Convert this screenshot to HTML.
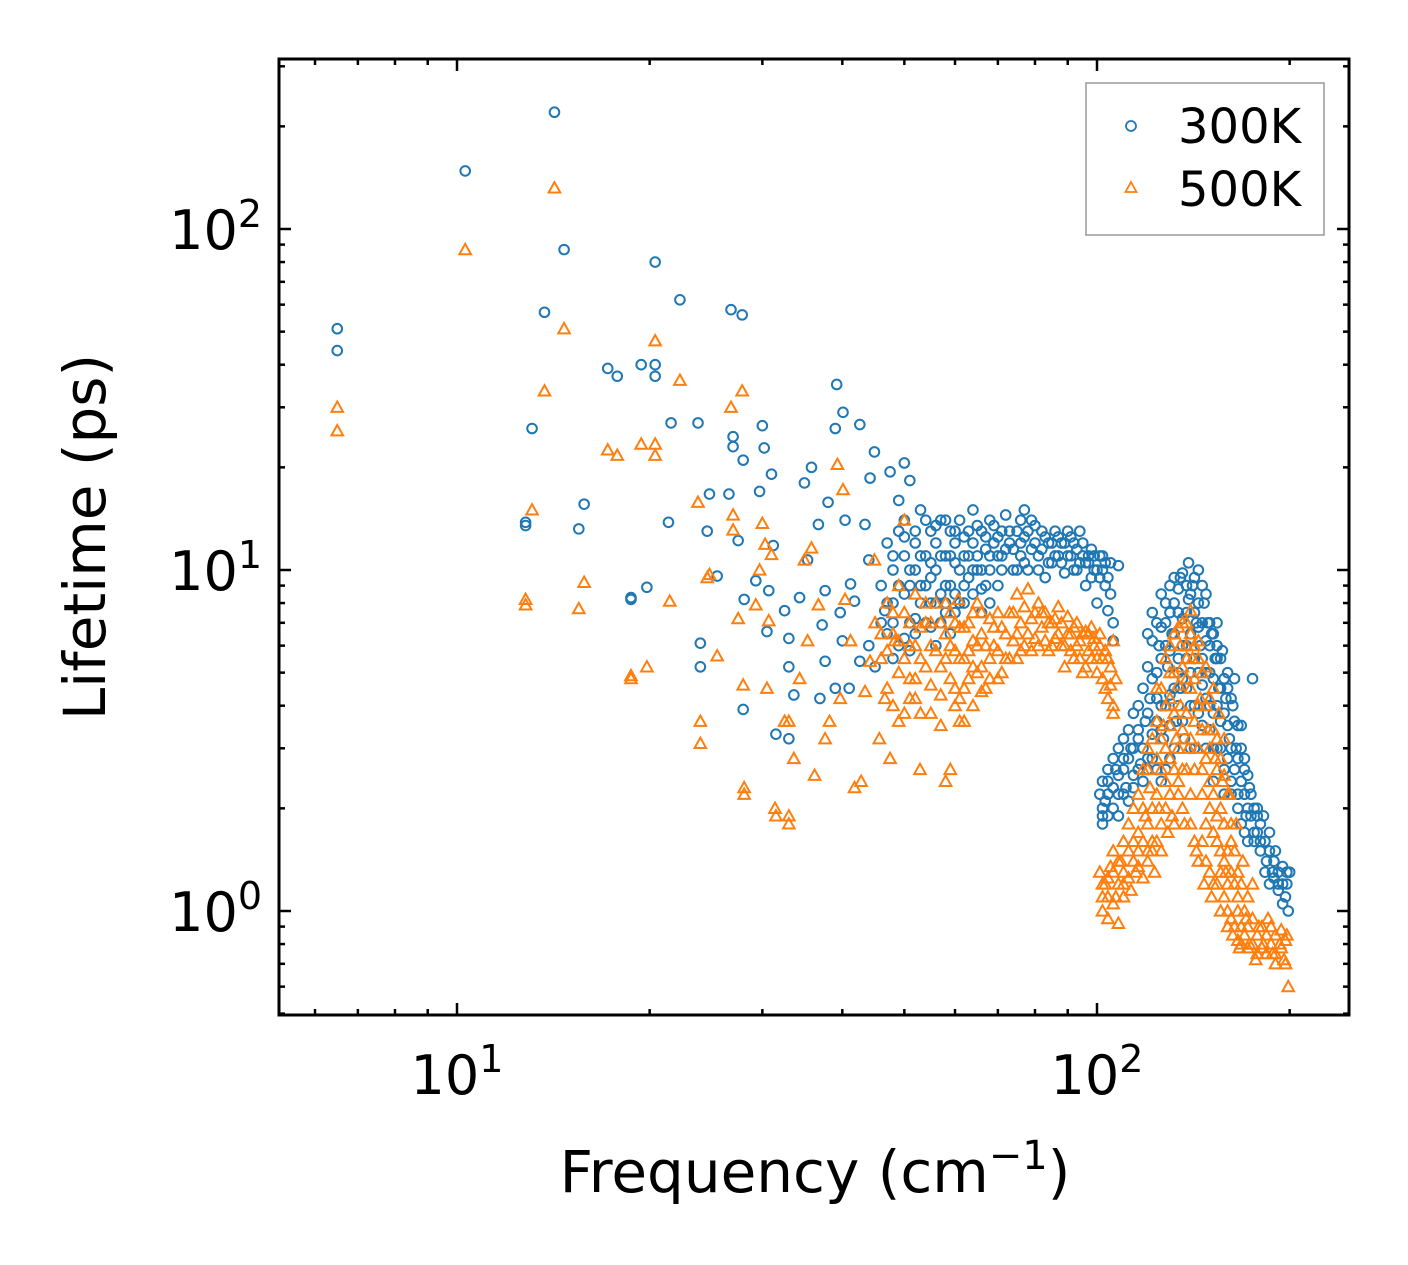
<!DOCTYPE html>
<html><head><meta charset="utf-8">
<style>
html,body{margin:0;padding:0;background:#fff;}
svg{display:block;font-family:"DejaVu Sans","Liberation Sans",sans-serif;}
</style></head>
<body>
<svg id="chart" width="1408" height="1265" viewBox="0 0 1408 1265" xmlns="http://www.w3.org/2000/svg">
<rect x="0" y="0" width="1408" height="1265" fill="#fff"/>
<g id="marks"></g>
<g id="ticks"></g>
<rect x="279" y="59" width="1070" height="956" fill="none" stroke="#000" stroke-width="3"/>
<text x="85" y="537" transform="rotate(-90 85 537)" text-anchor="middle" dominant-baseline="central" font-size="58">Lifetime (ps)</text>
<text x="815" y="1192" text-anchor="middle" font-size="58">Frequency (cm<tspan dy="-23" font-size="40">−1</tspan><tspan dy="23">)</tspan></text>
<g>
<rect x="1086" y="83" width="238" height="152" fill="#fff" stroke="#999" stroke-width="1.5"/>
<circle cx="1131" cy="126" r="5" fill="none" stroke="#1f77b4" stroke-width="1.8"/>
<text x="1178" y="143" font-size="48">300K</text>
<polygon points="1131,182 1136.5,192 1125.5,192" fill="none" stroke="#ff7f0e" stroke-width="1.8"/>
<text x="1178" y="206" font-size="48">500K</text>
</g>
</svg>
<script>
const xTickValues = [10, 100];
const xTickLabels = ["1", "2"];
const yTickValues = [1, 10, 100];
const yTickLabels = ["0", "1", "2"];

const freq300 = [6.5,6.5,10.3,14.2,14.7,13.7,13.1,12.8,12.8,15.5,15.8,17.2,17.8,19.4,20.4,20.4,20.4,22.3,21.6,21.4,19.8,18.7,18.7,23.8,24.8,24.6,24,24,25.5,26.6,26.8,27.9,27,27,28,27.5,28.1,28,29.3,29.7,30,30.2,30.5,30.7,31,31.2,31.5,33,32.5,33,33,33.6,34.3,34.9,35.3,35.8,36.7,37.2,37.6,37.6,38,39.2,39,39.7,40.1,40.4,41.2,41.8,42.6,43.4,44.2,44.9,47.5,49,50,51,46.6,42.6,41,39,36.9,40,44,
47,48,48,49,50,50,51,51,52,52,53,53,54,55,55,56,56,57,57,58,59,59,60,60,61,61,62,63,63,64,64,65,66,66,67,68,68,69,70,71,71,72,73,74,75,76,77,77,78,79,80,81,82,83,84,85,86,87,88,89,90,91,92,93,94,95,96,97,98,99,100,101,102,103,104,105,106,108,
44,45,46,47,48,50,52,55,58,
101,102,103,104,106,107,108,110,111,113,114,116,117,119,120,121,122,124,124,125,126,126,127,128,129,130,130,131,132,133,134,135,135,136,137,138,139,139,140,141,142,143,144,145,146,147,148,149,150,151,152,153,154,155,156,157,158,159,160,161,162,163,165,166,168,170,171,173,175,176,178,180,182,184,186,188,190,192,195,197,199,200];
const life300 = [51,44,148,220,87,57,26,13.8,13.5,13.2,15.6,39,37,40,40,37,80,62,27,13.8,8.9,8.3,8.2,27,16.7,13,6.1,5.2,9.6,16.7,58,56,24.6,23,21,12.2,8.2,3.9,9.3,17,26.5,22.8,6.6,8.7,19.1,11.8,3.3,3.2,7.6,6.3,5.2,4.3,8.3,18,10.7,20,13.6,6.9,5.4,8.7,15.8,35,26,7.5,29,14,9.1,8.1,26.7,13.6,18.6,22.2,19.4,16,20.6,18.3,7.6,5.4,4.5,4.5,4.2,6.2,10.7,
12,10,8,13,14,11,9,7,12,10,15,8,11,13,9.5,12,10,14,8.5,11,13,9,12,10.5,14,8,11,13,9.5,15,12,10,13,8.8,11.5,14,10,12,9,13,11,14.5,12,10,13,11,15,12.5,10,14,12,11,13,9.5,12,10.5,13,11,12,9.8,13,11,12,10,13,11,9,10.5,11.5,10,8,11,10,9,7.6,10.5,6.2,10.3,
6,5.2,7,6.5,5.5,6.3,7.2,6.8,7.5,
2.2,1.9,2.1,2.4,2.0,2.6,2.2,2.8,2.3,3.0,2.5,3.2,2.7,3.6,2.8,4.2,3.3,5,2.6,6,4,8.5,3.2,7,5.2,4.3,2.8,6.5,8,3.6,5.5,9.5,4.5,7.2,3.2,6,10.5,8.2,5,9,4,7,10,6,3.5,8,5,7,4,6.5,3,5.5,7,4.5,3.6,5.8,2.6,4.2,5,3.2,2.4,4,3,2.2,3.5,2.6,1.9,2.3,4.8,1.7,2.0,1.6,1.9,1.4,1.7,1.3,1.5,1.2,1.35,1.1,1.0,1.3];

const freq300Band = [48,49,50,51,52,53,54,54,55,56,56,57,58,58,59,60,60,61,62,62,63,64,65,65,66,67,67,68,69,70,70,71,72,73,74,75,76,76,77,78,79,80,81,82,83,84,85,86,87,88,89,90,91,92,93,94,95,96,97,98,99,100,101,102,103,104,105,106,
46,47,48,49,50,51,52,53,54,55,56,57,58,59,60,62,64,66,68];
const life300Band = [11,9,12.5,10,13,11,9,14,10.5,8,13.5,11,9,14,11,13,8.5,10,12.5,9,11,10,13.5,11,10,12.5,9,11,13.5,11,12.5,10,11.5,13,11.5,10,14,12,10.5,13,11.5,13.5,10,11.5,12.5,10.5,12,11,12.5,10.5,12,11,12.5,10,11.5,10.5,12,10.5,11,9.5,11,10,9.5,11,10.5,9.5,8.5,7,
9,8,7,6,8.5,5.8,6.5,9,7,8,6,7,8,6.5,7.5,8,8.5,7.5,8];

const freq300Cluster = [102,102,102,104,104,104,106,106,108,108,108,110,110,110,112,112,112,114,114,114,116,116,116,118,118,118,120,120,120,120,122,122,122,122,124,124,124,126,126,126,126,128,128,128,128,130,130,130,130,132,132,132,132,134,134,134,134,136,136,136,136,138,138,138,138,140,140,140,140,142,142,142,142,144,144,144,144,146,146,146,146,148,148,148,148,150,150,150,150,152,152,152,152,154,154,154,154,156,156,156,158,158,158,160,160,160,162,162,162,164,164,164,166,166,166,168,168,168,170,170,170,172,172,172,174,174,176,176,178,178,180,180,183,183,186,186,189,189,192,192,195,195,198,198];
const life300Cluster = [2.0,2.4,1.8,2.2,1.9,2.6,2.3,2.8,2.5,1.9,3.0,2.2,3.2,2.6,2.8,3.4,2.1,3.0,3.8,2.3,2.6,4.0,3.4,3.0,4.5,2.4,3.8,5.2,2.6,6.5,4.8,6.2,2.8,7.5,3.6,7,4.2,5.5,6.8,3.4,2.4,4,8,6,2.6,5.8,7.5,3.5,9,4.5,6.5,9.5,3,7.5,5,8.8,4,6,9.8,4.8,3.6,7.5,5.5,9,4.5,6.5,8.5,4,3,7.5,5.5,9.5,3,5,8,6.8,3.8,7,5.5,9,4.6,6.2,4.2,8.5,3,5,7,3.4,6,4.8,6.5,3.8,2.4,5.5,4,6,3,4.5,3,5.5,3.8,4.8,2.2,3.5,2.8,4.5,3,4.2,2.2,3.6,2.6,4.8,2.8,3.5,2.0,2.4,3,1.8,2.2,2.8,1.7,2,2.5,1.6,1.9,2.2,2.0,1.6,1.7,1.9,1.5,1.8,1.6,1.3,1.5,1.2,1.4,1.25,1.3,1.15,1.2,1.05,1.2,1.3];

const freq500 = [6.5,6.5,10.3,14.2,14.7,13.7,13.1,12.8,12.8,15.8,15.5,17.2,17.8,19.4,20.4,20.4,20.4,22.3,21.5,19.8,18.7,18.7,23.8,24,24,24.8,24.6,25.5,26.8,27.9,27,27,27.5,28,28.1,28.1,29.3,29.7,30,30.3,30.5,30.7,31,31.4,31.5,33,33,32.5,33,33.6,34.3,34.9,35.3,35.8,36.7,36.2,37.6,38.2,39.3,39.7,40.1,40.4,41.2,41.8,42.8,43.4,44.2,44.9,45.7,46.6,47.5,48.3,49,50,51,52.9,58,59,61,60.7,
45,46,47,47,48,49,49,50,51,51,52,53,53,54,55,55,56,57,57,58,59,59,60,61,61,62,63,63,64,65,65,66,67,68,68,69,70,71,72,73,74,75,75,76,77,78,79,80,81,82,83,84,85,86,87,88,89,90,91,92,93,94,95,96,97,98,99,100,101,102,103,104,105,106,107,106,
101,102,103,104,105,107,108,109,110,112,113,115,116,118,119,120,121,122,123,124,125,126,127,128,129,130,130,131,132,133,134,135,135,136,137,138,138,139,140,140,141,142,143,144,145,146,147,148,149,150,151,152,153,154,155,156,157,158,159,160,161,162,163,165,166,167,169,171,173,175,177,179,182,185,188,190,193,196,198,199];
const life500 = [30,25.6,87,132,51,33.5,15,8.2,7.9,9.2,7.7,22.5,21.7,23.4,23.4,21.7,47,36,8.1,5.2,4.9,4.8,15.8,3.6,3.1,9.7,9.5,5.6,30,33.5,14.5,13.1,7.2,4.6,2.3,2.2,7.9,10,13.7,11.9,4.5,7.1,11.1,2.0,1.9,1.9,1.8,3.6,3.6,2.8,4.8,10.7,6.2,11.6,7.9,2.5,3.2,3.6,20.4,4.2,17.2,8.2,6.2,2.3,2.4,4.4,5.4,10.7,3.2,4.2,2.8,6.2,3.6,14,4.8,2.6,2.4,2.6,3.6,8.2,
7,5.5,8,4.5,6.5,9,5,7.5,4.2,6,8.5,5.5,3.8,7,6,4.6,8,5.2,3.5,6.5,7.5,4.8,5.8,6.8,4.2,5.5,7,4.8,6.2,8,5,6.5,4.5,7.2,5.5,6,4.8,6.8,5.5,7.5,6.2,8.5,5.5,7,6,8.8,7.2,6.3,8,6.8,7.5,5.8,7,6.3,7.8,6,5.2,7.3,6.5,5.5,7,6.2,5,6.6,5.8,6.8,6.3,5.5,6.5,4.8,5.8,4.2,5.2,3.8,4.8,6.2,
1.3,1.1,1.2,0.95,1.35,1.1,0.92,1.4,1.2,1.5,1.15,1.3,1.7,1.25,1.9,1.4,2.3,1.6,1.3,2.8,2,1.5,3.5,2.4,1.7,4.2,2.8,1.9,5,3.2,2.2,6,4,2.6,1.8,7,4.8,3,7.6,2.2,5.5,3.6,1.5,6.2,4.2,2.6,1.2,5.2,3.4,2,1.1,4.5,2.8,1.6,3.8,1.0,2.4,3.2,1.3,0.9,2.2,1.6,0.85,1.8,1.1,0.78,1.4,0.95,0.8,1.2,0.72,0.9,0.8,0.95,0.75,0.85,0.8,0.72,0.85,0.6];

const freq500Band = [46,47,48,49,50,51,52,52,53,54,54,55,56,57,58,58,59,60,60,61,62,62,63,64,64,65,66,66,67,68,69,70,70,71,72,73,74,75,76,77,78,79,80,81,82,83,84,85,86,87,88,89,90,91,92,93,94,95,96,97,98,99,100,101,102,103,104,105,106,
48,50,52,55,57,60,62,64,66];
const life500Band = [6.5,5.8,7.5,6.2,5.5,7,6,4.8,6.8,5.2,8,7,5.8,7,5.5,8,6,7,4.5,5.5,6.8,4.5,5.8,7.5,5.2,6,5.2,7.5,6,4.8,6.8,5.8,7.5,5,6.5,5.5,7.5,6.5,5.8,7.8,6.5,5.8,7.5,6,7.5,6.2,7,6,7.2,6.5,7,6,6.5,5.8,6.8,6,5.5,6.5,5.2,6.5,5.5,6,5,6,5.5,4.5,5.5,4.6,4,
4,3.8,4.2,3.8,4.3,4,3.6,4,4.4];

const freq500Cluster = [102,102,104,104,106,106,106,108,108,110,110,110,112,112,114,114,114,116,116,116,118,118,118,120,120,120,120,122,122,122,124,124,124,124,126,126,126,126,128,128,128,128,130,130,130,130,132,132,132,132,134,134,134,134,136,136,136,136,138,138,138,138,140,140,140,140,142,142,142,142,144,144,144,144,146,146,146,146,148,148,148,148,150,150,150,150,152,152,152,152,154,154,154,154,156,156,156,156,158,158,158,158,160,160,160,160,162,162,162,164,164,164,166,166,166,168,168,168,170,170,172,172,172,175,175,178,178,181,181,184,184,187,187,190,190,194,194,197,197];
const life500Cluster = [1.2,1.0,1.25,1.1,1.3,1.05,1.5,1.2,1.4,1.3,1.6,1.1,1.25,1.8,1.4,1.6,2.0,1.35,1.5,2.2,1.6,2,2.6,1.8,2.6,1.5,3,2,3.2,1.5,2.2,3.6,1.6,4.5,2.6,4.5,1.8,3.2,3,5.5,2,4,3.5,6,2.2,5,2.6,3.8,6.5,1.8,3,4.6,6.8,2.4,3.4,5.2,7,2,2.6,3.8,6,5.5,3.2,4.5,6.5,1.8,2.6,4.8,6,1.6,3,4,5.5,1.4,3.4,5,2.2,1.6,2.8,4,1.4,1.8,3,4.2,1.3,2.4,2.2,3.4,1.2,1.7,2.6,3.2,1.2,1.9,2,2.8,1.3,1.5,1.8,2.5,1.1,1.4,1.5,2.2,1.0,1.2,1.3,1.8,0.95,1.2,1.5,0.9,1.0,1.3,0.82,0.9,1.2,0.8,0.85,1.0,0.78,0.9,1.1,0.8,0.95,0.75,0.85,0.78,0.9,0.75,0.85,0.8,0.9,0.75,0.7,0.78,0.88,0.7,0.82];

const NS = "http://www.w3.org/2000/svg";
const PL = 279, PR = 1349, PT = 59, PB = 1015;
const X10 = 457, XDEC = 640;
const Y1 = 911, YDEC = 341;
function xScale(f){ return X10 + (Math.log10(f) - 1) * XDEC; }
function yScale(t){ return Y1 - Math.log10(t) * YDEC; }

const marks = document.getElementById('marks');
function drawCircles(fs, ts){
  const n = Math.min(fs.length, ts.length);
  for (let i = 0; i < n; i++) {
    const c = document.createElementNS(NS, 'circle');
    c.setAttribute('cx', xScale(fs[i]));
    c.setAttribute('cy', yScale(ts[i]));
    c.setAttribute('r', 4.8);
    c.setAttribute('fill', 'none');
    c.setAttribute('stroke', '#1f77b4');
    c.setAttribute('stroke-width', 2);
    
    
    marks.appendChild(c);
  }
}
function drawTriangles(fs, ts){
  const n = Math.min(fs.length, ts.length);
  for (let i = 0; i < n; i++) {
    const x = xScale(fs[i]), y = yScale(ts[i]);
    const p = document.createElementNS(NS, 'polygon');
    p.setAttribute('points', `${x},${y-5.8} ${x+5.8},${y+4.6} ${x-5.8},${y+4.6}`);
    p.setAttribute('fill', 'none');
    p.setAttribute('stroke', '#ff7f0e');
    p.setAttribute('stroke-width', 2);
    
    
    marks.appendChild(p);
  }
}
drawCircles(freq300, life300);
drawCircles(freq300Band, life300Band);
drawCircles(freq300Cluster, life300Cluster);
drawTriangles(freq500, life500);
drawTriangles(freq500Band, life500Band);
drawTriangles(freq500Cluster, life500Cluster);

const ticks = document.getElementById('ticks');
function line(x1,y1,x2,y2,name){
  const l = document.createElementNS(NS,'line');
  l.setAttribute('x1',x1);l.setAttribute('y1',y1);l.setAttribute('x2',x2);l.setAttribute('y2',y2);
  l.setAttribute('stroke','#000');l.setAttribute('stroke-width',2.5);
  
  
  ticks.appendChild(l);
}
for (let d = 0; d <= 3; d++) {
  for (let m = 1; m <= 9; m++) {
    const v = m * Math.pow(10, d);
    const x = xScale(v);
    if (x < PL + 1 || x > PR - 1) continue;
    const len = m === 1 ? 12 : 6;
    line(x, PB, x, PB - len, 'x-tick');
    line(x, PT, x, PT + len, 'x-tick-top');
  }
}
for (let d = -1; d <= 3; d++) {
  for (let m = 1; m <= 9; m++) {
    const v = m * Math.pow(10, d);
    const y = yScale(v);
    if (y < PT + 1 || y > PB - 1) continue;
    const len = m === 1 ? 12 : 6;
    line(PL, y, PL + len, y, 'y-tick');
    line(PR, y, PR - len, y, 'y-tick-right');
  }
}
xTickValues.forEach((v, i) => {
  const t = document.createElementNS(NS,'text');
  t.setAttribute('x', xScale(v));
  t.setAttribute('y', 1094);
  t.setAttribute('text-anchor','middle');
  t.setAttribute('font-size','54');
  
  
  t.innerHTML = `10<tspan dy="-22" font-size="38">${xTickLabels[i]}</tspan>`;
  ticks.appendChild(t);
});
yTickValues.forEach((v, i) => {
  const t = document.createElementNS(NS,'text');
  t.setAttribute('x', 262);
  t.setAttribute('y', yScale(v) + 20);
  t.setAttribute('text-anchor','end');
  t.setAttribute('font-size','54');
  
  
  t.innerHTML = `10<tspan dy="-22" font-size="38">${yTickLabels[i]}</tspan>`;
  ticks.appendChild(t);
});
</script>
</body></html>
